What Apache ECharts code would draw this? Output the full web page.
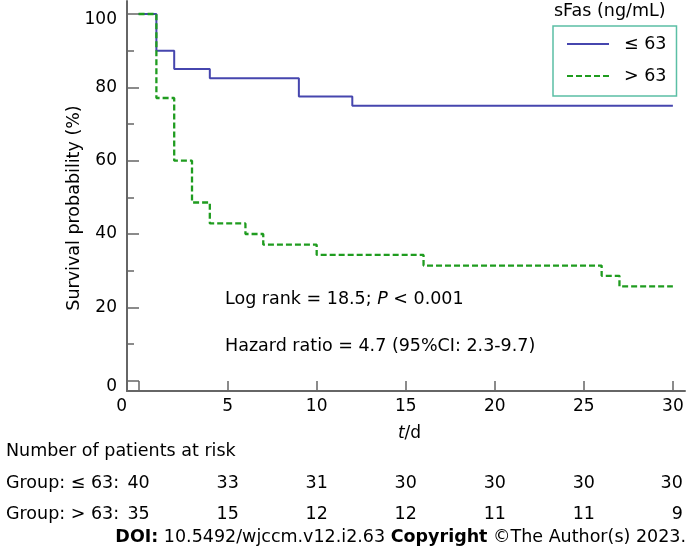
<!DOCTYPE html>
<html><head><meta charset="utf-8">
<script src="https://cdn.jsdelivr.net/npm/echarts@6/dist/echarts.min.js"></script>
<style>html,body{margin:0;padding:0;background:#fff}#c{width:691px;height:553px}</style>
</head><body><div id="c"></div>
<script>
// ---- data ----
const groupNames = ['≤ 63', '> 63'];
const lowTimes = [0, 1, 2, 4, 9, 12, 30];
const lowSurv = [100, 90, 85, 82.5, 77.5, 75, 75];
const highTimes = [0, 1, 2, 3, 4, 6, 7, 10, 16, 26, 27, 30];
const highSurv = [100, 77.1, 60, 48.6, 42.9, 40, 37.1, 34.3, 31.4, 28.6, 25.7, 25.7];
const xTicks = [0, 5, 10, 15, 20, 25, 30];
const yMajorTicks = [0, 20, 40, 60, 80, 100];
const yMinorTicks = [10, 30, 50, 70, 90];
const riskTimes = [0, 5, 10, 15, 20, 25, 30];
const riskLow = [40, 33, 31, 30, 30, 30, 30];
const riskHigh = [35, 15, 12, 12, 11, 11, 9];

const FONT = 'DejaVu Sans';
const AX = '#666666';
const BLUE = '#4646AE';
const GREEN = '#1F9C1F';
const XMIN = -0.65, XMAX = 30.68, YMIN = -2.81, YMAX = 103.55;

const zip = (a, b) => a.map((v, i) => [v, b[i]]);
const riskData = [];
[riskLow, riskHigh].forEach((row, r) => {
  row.forEach((n, i) => {
    const item = { value: [riskTimes[i], groupNames[r], n] };
    if (i === row.length - 1) item.label = { align: 'right', offset: [10, 0] };
    riskData.push(item);
  });
});

const chart = echarts.init(document.getElementById('c'), null, { renderer: 'canvas' });
chart.setOption({
  animation: false,
  textStyle: { fontFamily: FONT },
  grid: [
    { left: 127, right: 6, top: 1, bottom: 162 },
    { left: 127, right: 6, top: 468, height: 62 }
  ],
  xAxis: [
    {
      type: 'value', gridIndex: 0, min: XMIN, max: XMAX,
      splitLine: { show: false },
      axisLine: { onZero: false, lineStyle: { color: AX, width: 2 } },
      axisTick: { inside: true, length: 10, customValues: xTicks, lineStyle: { color: AX, width: 1.5 } },
      axisLabel: {
        customValues: xTicks, margin: 7, fontSize: 17, color: '#000', fontFamily: FONT,
        formatter: v => v === 0 ? '{z|0}' : String(v),
        rich: { z: { fontSize: 17, fontFamily: FONT, color: '#000', padding: [0, 34, 0, 0] } }
      },
      name: '{i|t}/d', nameLocation: 'middle', nameGap: 34, nameMoveOverlap: false,
      nameTextStyle: {
        fontSize: 17, color: '#000', fontFamily: FONT, padding: [0, 0, 0, 7],
        rich: { i: { fontStyle: 'italic', fontSize: 17, fontFamily: FONT, color: '#000' } }
      }
    },
    { type: 'value', gridIndex: 1, min: XMIN, max: XMAX, show: false }
  ],
  yAxis: [
    {
      type: 'value', gridIndex: 0, min: YMIN, max: YMAX,
      splitLine: { show: false },
      axisLine: { show: true, onZero: false, lineStyle: { color: AX, width: 2 } },
      axisTick: { show: true, inside: true, length: 12, customValues: yMajorTicks, lineStyle: { color: AX, width: 1.5 } },
      axisLabel: {
        customValues: yMajorTicks, margin: 10, fontSize: 17, color: '#000', fontFamily: FONT,
        formatter: v => (v === 0 || v === 100) ? '{d|' + v + '}' : String(v),
        rich: { d: { fontSize: 17, fontFamily: FONT, color: '#000', padding: [12, 0, 0, 0] } }
      },
      name: 'Survival probability (%)', nameLocation: 'middle', nameGap: 44, nameMoveOverlap: false,
      nameTextStyle: { fontSize: 17.5, color: '#000', fontFamily: FONT, padding: [0, 24, 0, 0] }
    },
    {
      type: 'value', gridIndex: 0, min: YMIN, max: YMAX, position: 'left',
      splitLine: { show: false },
      axisLine: { show: false, onZero: false },
      axisLabel: { show: false },
      axisTick: { show: true, inside: true, length: 7, customValues: yMinorTicks, lineStyle: { color: AX, width: 1.5 } }
    },
    {
      type: 'category', gridIndex: 1, data: groupNames, inverse: true,
      axisLine: { show: false, onZero: false }, axisTick: { show: false }, splitLine: { show: false },
      axisLabel: {
        align: 'left', margin: 121, fontSize: 17.5, color: '#000', fontFamily: FONT,
        formatter: v => 'Group: ' + v + ':'
      }
    }
  ],
  legend: {
    orient: 'vertical', left: 553, top: 26,
    padding: [8, 10, 10, 13], itemGap: 12, itemWidth: 42, itemHeight: 20,
    borderColor: '#5BBFA5', borderWidth: 1.5,
    itemStyle: { color: 'rgba(0,0,0,0)', borderColor: 'rgba(0,0,0,0)', borderWidth: 0, opacity: 0 },
    textStyle: { fontSize: 17.5, color: '#000', fontFamily: FONT, lineHeight: 20, padding: [0, 0, 0, 10] },
    data: groupNames
  },
  series: [
    {
      name: groupNames[0], type: 'line', step: 'end', symbol: 'circle', showSymbol: false,
      xAxisIndex: 0, yAxisIndex: 0,
      lineStyle: { color: BLUE, width: 2 }, itemStyle: { color: BLUE },
      data: zip(lowTimes, lowSurv)
    },
    {
      name: groupNames[1], type: 'line', step: 'end', symbol: 'circle', showSymbol: false,
      xAxisIndex: 0, yAxisIndex: 0,
      lineStyle: { color: GREEN, width: 2.3, type: [6, 3] }, itemStyle: { color: GREEN },
      data: zip(highTimes, highSurv)
    },
    {
      type: 'scatter', xAxisIndex: 1, yAxisIndex: 2, symbolSize: 0, silent: true,
      itemStyle: { opacity: 1 },
      label: { show: true, position: 'inside', fontSize: 17.5, color: '#000', opacity: 1, fontFamily: FONT,
               formatter: p => String(p.value[2]) },
      data: riskData
    }
  ],
  graphic: [
    { type: 'text', left: 554, top: 2, style: { text: 'sFas (ng/mL)', fontSize: 17.5, fontFamily: FONT, fill: '#000' } },
    { type: 'text', left: 225, top: 290, style: {
        text: 'Log rank = 18.5; {i|P} < 0.001', fontSize: 17.5, fontFamily: FONT, fill: '#000',
        rich: { i: { fontStyle: 'italic', fontSize: 17.5, fontFamily: FONT, fill: '#000' } } } },
    { type: 'text', left: 225, top: 337, style: {
        text: 'Hazard ratio = 4.7 (95%CI: 2.3-9.7)', fontSize: 17.5, fontFamily: FONT, fill: '#000' } },
    { type: 'text', left: 6, top: 442, style: { text: 'Number of patients at risk', fontSize: 17.5, fontFamily: FONT, fill: '#000' } },
    { type: 'text', right: 5, top: 528, style: {
        text: '{b|DOI:} 10.5492/wjccm.v12.i2.63 {b|Copyright} ©The Author(s) 2023.',
        fontSize: 17.5, fontFamily: FONT, fill: '#000',
        rich: { b: { fontWeight: 'bold', fontSize: 17.5, fontFamily: FONT, fill: '#000' } } } }
  ]
});
</script></body></html>
